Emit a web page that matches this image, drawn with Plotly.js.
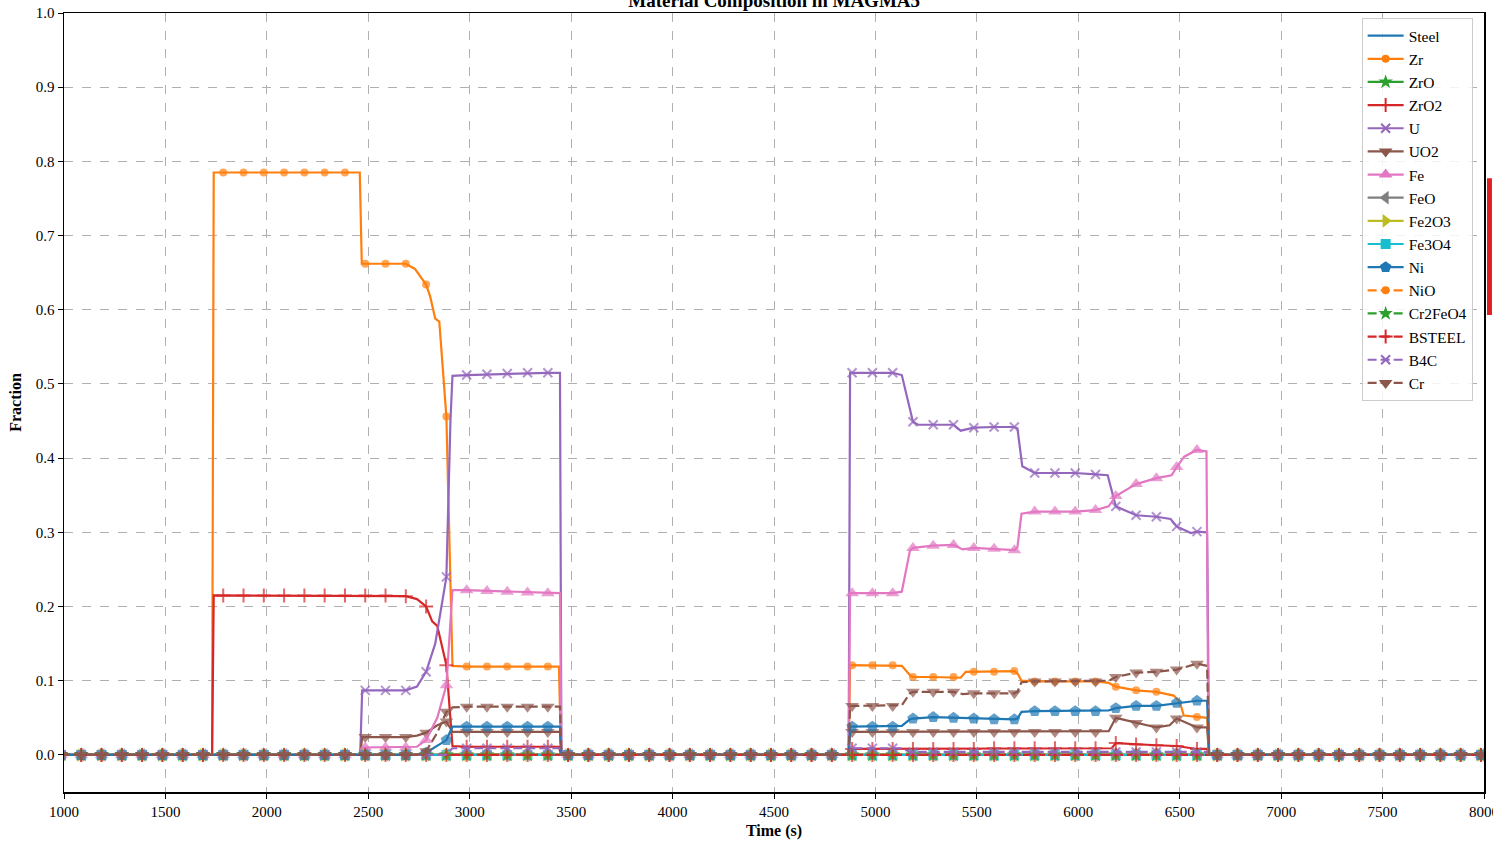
<!DOCTYPE html>
<html>
<head>
<meta charset="utf-8">
<script src="https://cdn.plot.ly/plotly-3.0.1.min.js"></script>
<style>
html,body{margin:0;padding:0;background:#fff;}
#chart{width:1493px;height:843px;}
</style>
</head>
<body>
<div id="chart"></div>
<script>
// Baseline sample times (where markers are drawn) and baseline values
const gridTime = [985,1085,1185,1285,1385,1485,1585,1685,1785,1885,1985,2085,2185,2285,2385,2485,2585,2685,2785,2885,2985,3085,3185,3285,3385,3485,3585,3685,3785,3885,3985,4085,4185,4285,4385,4485,4585,4685,4785,4885,4985,5085,5185,5285,5385,5485,5585,5685,5785,5885,5985,6085,6185,6285,6385,6485,6585,6685,6785,6885,6985,7085,7185,7285,7385,7485,7585,7685,7785,7885,7985];
const zeroFrac = [0,0,0,0,0,0,0,0,0,0,0,0,0,0,0,0,0,0,0,0,0,0,0,0,0,0,0,0,0,0,0,0,0,0,0,0,0,0,0,0,0,0,0,0,0,0,0,0,0,0,0,0,0,0,0,0,0,0,0,0,0,0,0,0,0,0,0,0,0,0,0];

const seriesNames = ["Steel","Zr","ZrO","ZrO2","U","UO2","Fe","FeO","Fe2O3","Fe3O4","Ni","NiO","Cr2FeO4","BSTEEL","B4C","Cr"];

// Active (non-zero) stretches of each series: time (s) and fraction
const zrTime = [1730,1738,1785,1885,1985,2085,2185,2285,2385,2458,2468,2485,2585,2685,2730,2785,2805,2830,2850,2885,2915,2985,3085,3185,3285,3385,3440,3450,4868,4875,4885,4985,5085,5130,5175,5185,5285,5385,5420,5445,5485,5585,5685,5700,5720,5785,5885,5985,6085,6150,6185,6285,6385,6470,6500,6520,6585,6635,6645];
const zrFrac = [0,0.785,0.785,0.785,0.785,0.785,0.785,0.785,0.785,0.785,0.662,0.662,0.662,0.662,0.655,0.634,0.618,0.588,0.584,0.456,0.12,0.119,0.119,0.119,0.119,0.119,0.119,0,0,0.121,0.121,0.121,0.121,0.12,0.106,0.105,0.105,0.105,0.104,0.112,0.112,0.112,0.113,0.11,0.1,0.099,0.099,0.099,0.099,0.097,0.092,0.087,0.085,0.08,0.072,0.053,0.051,0.05,0];

const zro2Time = [1730,1738,1785,1885,1985,2085,2185,2285,2385,2485,2585,2685,2740,2785,2815,2840,2885,2915,2985,3085,3185,3285,3385,3440,3450,4868,4875,4885,4985,5085,5185,5285,5385,5485,5585,5685,5785,5885,5985,6085,6165,6185,6285,6385,6485,6585,6635,6645];
const zro2Frac = [0,0.215,0.215,0.215,0.215,0.215,0.215,0.215,0.215,0.215,0.215,0.214,0.21,0.2,0.18,0.174,0.121,0.012,0.011,0.011,0.011,0.011,0.011,0.011,0,0,0.008,0.008,0.008,0.008,0.008,0.008,0.008,0.008,0.009,0.009,0.009,0.009,0.009,0.009,0.009,0.016,0.014,0.013,0.012,0.008,0.008,0];

const uTime = [2460,2470,2485,2585,2685,2740,2785,2830,2860,2885,2905,2915,2985,3085,3185,3285,3385,3445,3452,4868,4875,4885,4985,5085,5130,5175,5185,5210,5285,5385,5420,5485,5585,5685,5700,5724,5785,5885,5985,6085,6145,6185,6285,6385,6455,6485,6555,6585,6635,6645];
const uFrac = [0,0.087,0.087,0.087,0.087,0.092,0.112,0.15,0.2,0.24,0.45,0.511,0.512,0.513,0.514,0.515,0.515,0.515,0,0,0.515,0.515,0.515,0.515,0.512,0.46,0.449,0.445,0.445,0.445,0.437,0.441,0.442,0.442,0.44,0.389,0.38,0.38,0.38,0.378,0.377,0.335,0.323,0.321,0.318,0.308,0.299,0.301,0.3,0];

const uo2Time = [2460,2470,2485,2585,2685,2740,2785,2840,2885,2915,2985,3085,3185,3285,3385,3445,3452,4868,4875,4885,4985,5085,5185,5285,5385,5485,5585,5685,5785,5885,5985,6085,6150,6185,6285,6385,6450,6485,6585,6635,6645];
const uo2Frac = [0,0.024,0.024,0.024,0.024,0.026,0.03,0.04,0.045,0.031,0.031,0.031,0.031,0.031,0.031,0.031,0,0,0.031,0.031,0.031,0.031,0.031,0.031,0.031,0.031,0.031,0.031,0.031,0.031,0.031,0.031,0.032,0.05,0.043,0.037,0.04,0.049,0.037,0.037,0];

const feTime = [2460,2470,2485,2585,2685,2740,2785,2840,2885,2915,2985,3085,3185,3285,3385,3445,3452,4868,4875,4885,4985,5085,5130,5170,5185,5285,5385,5430,5485,5585,5685,5700,5720,5785,5885,5985,6085,6150,6185,6285,6385,6460,6485,6522,6585,6632,6642];
const feFrac = [0,0.01,0.01,0.01,0.01,0.011,0.02,0.05,0.094,0.222,0.222,0.221,0.22,0.219,0.218,0.218,0,0,0.218,0.218,0.218,0.218,0.22,0.275,0.279,0.282,0.283,0.277,0.279,0.278,0.276,0.28,0.325,0.328,0.328,0.328,0.33,0.335,0.349,0.365,0.373,0.377,0.388,0.402,0.411,0.409,0];

const niTime = [2740,2785,2885,2915,2985,3085,3185,3285,3385,3445,3452,4868,4875,4885,4985,5085,5130,5170,5185,5285,5385,5485,5585,5685,5700,5720,5785,5885,5985,6085,6150,6185,6285,6385,6485,6585,6635,6645];
const niFrac = [0,0.003,0.02,0.038,0.038,0.038,0.038,0.038,0.038,0.038,0,0,0.038,0.038,0.038,0.038,0.039,0.048,0.049,0.051,0.05,0.049,0.048,0.048,0.049,0.058,0.059,0.059,0.059,0.059,0.06,0.063,0.066,0.066,0.07,0.073,0.073,0];

const b4cTime = [2880,2915,2985,3085,3185,3285,3385,3445,3452,4868,4875,4885,4985,5085,5130,5170,5185,5285,5385,5485,5585,5685,5785,5885,5985,6085,6185,6285,6385,6485,6585,6635,6645];
const b4cFrac = [0,0.009,0.009,0.009,0.009,0.009,0.009,0.009,0,0,0.009,0.009,0.009,0.009,0.009,0.004,0.004,0.004,0.004,0.004,0.004,0.004,0.004,0.004,0.004,0.004,0.004,0.004,0.004,0.004,0.004,0.004,0];

const crTime = [2740,2785,2840,2885,2915,2985,3085,3185,3285,3385,3445,3452,4868,4875,4885,4985,5085,5130,5170,5185,5285,5385,5430,5485,5585,5685,5700,5720,5785,5885,5985,6085,6150,6185,6285,6385,6485,6585,6635,6645];
const crFrac = [0,0.005,0.03,0.058,0.064,0.065,0.065,0.065,0.065,0.065,0.065,0,0,0.066,0.066,0.066,0.066,0.067,0.083,0.085,0.085,0.085,0.082,0.083,0.083,0.083,0.085,0.098,0.099,0.099,0.099,0.099,0.1,0.105,0.111,0.112,0.115,0.123,0.12,0];

const emptyT = [], emptyV = [];

const seriesData = {
  "Steel":[emptyT,emptyV], "Zr":[zrTime,zrFrac], "ZrO":[emptyT,emptyV], "ZrO2":[zro2Time,zro2Frac],
  "U":[uTime,uFrac], "UO2":[uo2Time,uo2Frac], "Fe":[feTime,feFrac], "FeO":[emptyT,emptyV],
  "Fe2O3":[emptyT,emptyV], "Fe3O4":[emptyT,emptyV], "Ni":[niTime,niFrac], "NiO":[emptyT,emptyV],
  "Cr2FeO4":[emptyT,emptyV], "BSTEEL":[emptyT,emptyV], "B4C":[b4cTime,b4cFrac], "Cr":[crTime,crFrac]
};

// styles
const styles = {
  "Steel":{c:"#1f77b4",s:null,d:"solid"},
  "Zr":{c:"#ff7f0e",s:"circle",d:"solid",z:8},
  "ZrO":{c:"#2ca02c",s:"star",d:"solid",z:11},
  "ZrO2":{c:"#d62728",s:"cross-thin",d:"solid",z:10},
  "U":{c:"#9467bd",s:"x-thin",d:"solid",z:9},
  "UO2":{c:"#8c564b",s:"triangle-down",d:"solid",z:12},
  "Fe":{c:"#e377c2",s:"triangle-up",d:"solid",z:12},
  "FeO":{c:"#7f7f7f",s:"triangle-left",d:"solid",z:12},
  "Fe2O3":{c:"#bcbd22",s:"triangle-right",d:"solid",z:12},
  "Fe3O4":{c:"#17becf",s:"square",d:"solid",z:10},
  "Ni":{c:"#1f77b4",s:"pentagon",d:"solid",z:12},
  "NiO":{c:"#ff7f0e",s:"circle",d:"dash",z:8},
  "Cr2FeO4":{c:"#2ca02c",s:"star",d:"dash",z:11},
  "BSTEEL":{c:"#d62728",s:"cross-thin",d:"dash",z:10},
  "B4C":{c:"#9467bd",s:"x-thin",d:"dash",z:9},
  "Cr":{c:"#8c564b",s:"triangle-down",d:"dash",z:12}
};
const DASH = "9px,4px";

function build(t, v) {
  const pts = t.map((x, i) => [x, v[i]]);
  gridTime.forEach((g, k) => {
    if (t.includes(g)) return;
    let inside = false;
    for (let i = 0; i < t.length - 1; i++) {
      if (g > t[i] && g < t[i+1] && (v[i] !== 0 || v[i+1] !== 0)) inside = true;
    }
    if (!inside) pts.push([g, zeroFrac[k]]);
  });
  pts.sort((a, b) => a[0] - b[0]);
  return pts;
}
const isMark = t => ((t - 85) % 100) === 0;

const traces = [];
const legendTraces = [];
seriesNames.forEach(name => {
  const st = styles[name];
  const pts = build(seriesData[name][0], seriesData[name][1]);
  const xs = pts.map(p => p[0]), ys = pts.map(p => p[1]);
  const thin = st.s && st.s.indexOf("thin") >= 0;
  const tr = {
    type: "scatter", x: xs, y: ys, name: name, showlegend: false,
    mode: st.s ? "lines+markers" : "lines",
    line: {color: st.c, width: 2.2, dash: st.d === "dash" ? DASH : "solid"},
    cliponaxis: true, hoverinfo: "skip"
  };
  if (st.s) {
    tr.marker = {symbol: st.s, color: st.c, size: xs.map(x => isMark(x) ? st.z : 0),
      line: {color: st.c, width: thin ? 2 : 0}};
  }
  traces.push(tr);
  const lg = {
    type: "scatter", x: [null], y: [null], name: name, showlegend: true,
    mode: st.s ? "lines+markers" : "lines",
    line: {color: st.c, width: 2.2, dash: st.d === "dash" ? DASH : "solid"}
  };
  if (st.s) lg.marker = {symbol: st.s, color: st.c, size: st.z, line: {color: st.c, width: thin ? 2 : 0}};
  legendTraces.push(lg);
});

const axisCommon = {
  showgrid: true, gridcolor: "#b0b0b0", griddash: "dash", gridwidth: 1,
  showline: true, linecolor: "#000", linewidth: 1.5, mirror: true,
  ticks: "outside", ticklen: 5, tickcolor: "#000", tickwidth: 1,
  zeroline: false, ticklabeloverflow: "allow",
  tickfont: {family: "Liberation Serif", size: 15, color: "#000"}
};

const layout = {
  width: 1493, height: 843,
  margin: {l: 64, r: 9, t: 13, b: 51},
  paper_bgcolor: "#fff", plot_bgcolor: "#fff",
  font: {family: "Liberation Serif", size: 15, color: "#000"},
  title: {text: "<b>Material Composition in MAGMA5</b>", font: {family: "Liberation Serif", size: 19, color: "#000"},
    x: 0.5185, xanchor: "center", yref: "container", y: 1, yanchor: "middle"},
  xaxis: Object.assign({}, axisCommon, {range: [1000, 8000], tick0: 1000, dtick: 500,
    title: {text: "<b>Time (s)</b>", font: {family: "Liberation Serif", size: 16}, standoff: 6}}),
  yaxis: Object.assign({}, axisCommon, {range: [-0.05, 1.0], tick0: 0, dtick: 0.1, tickformat: ".1f",
    title: {text: "<b>Fraction</b>", font: {family: "Liberation Serif", size: 16}, standoff: 10}}),
  legend: {x: 0.992, xanchor: "right", y: 0.9935, yanchor: "top", bgcolor: "rgba(255,255,255,0.85)",
    bordercolor: "#cccccc", borderwidth: 1, font: {family: "Liberation Serif", size: 15.5, color: "#000"},
    itemwidth: 36, tracegroupgap: 0},
  shapes: [{type: "rect", xref: "paper", yref: "paper", x0: 1.0021, x1: 1.0056, y0: 0.6123, y1: 0.788,
    fillcolor: "#e02020", line: {width: 0}, layer: "above"}],
  showlegend: true
};

Plotly.newPlot("chart", traces.concat(legendTraces), layout, {displayModeBar: false, staticPlot: true});
</script>
</body>
</html>
